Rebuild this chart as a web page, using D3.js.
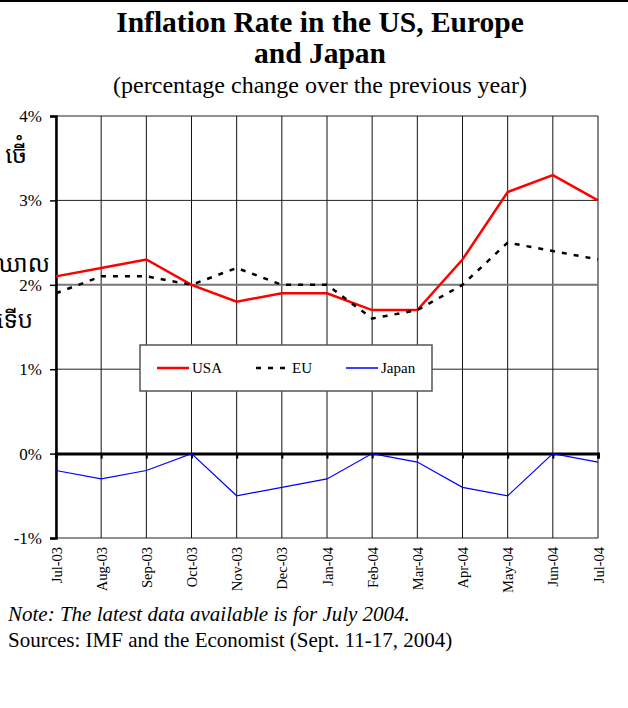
<!DOCTYPE html>
<html>
<head>
<meta charset="utf-8">
<script src="https://cdn.jsdelivr.net/npm/d3@7"></script>
<style>
  body { margin: 0; background: #fff; }
  svg { display: block; font-family: "Liberation Serif", "Times New Roman", serif; }
</style>
</head>
<body>
<svg id="chart"></svg>
<script>
// data
const months = ['Jul-03', 'Aug-03', 'Sep-03', 'Oct-03', 'Nov-03', 'Dec-03', 'Jan-04',
                'Feb-04', 'Mar-04', 'Apr-04', 'May-04', 'Jun-04', 'Jul-04'];
const usa   = [2.1, 2.2, 2.3, 2.0, 1.8, 1.9, 1.9, 1.7, 1.7, 2.3, 3.1, 3.3, 3.0];
const eu    = [1.9, 2.1, 2.1, 2.0, 2.2, 2.0, 2.0, 1.6, 1.7, 2.0, 2.5, 2.4, 2.3];
const japan = [-0.2, -0.3, -0.2, 0.0, -0.5, -0.4, -0.3, 0.0, -0.1, -0.4, -0.5, 0.0, -0.1];
const yTicks = [-1, 0, 1, 2, 3, 4];

const width = 628, height = 708;
const margin = {top: 116, right: 30, bottom: 170, left: 56};

const svg = d3.select('#chart')
    .attr('width', width)
    .attr('height', height);

// black rule along the very top
svg.append('rect')
    .attr('x', 0).attr('y', 0)
    .attr('width', width).attr('height', 2)
    .attr('fill', '#000');

// khmer fragments on the left edge (cut off in the original too)
const khmer = [
    {t: 'ចើំ', x: 27, y: 163, s: 24},
    {t: 'ឈោល', x: 50, y: 272, s: 24},
    {t: 'ទើប', x: 33, y: 328, s: 24}
];
svg.selectAll('.khmer')
    .data(khmer)
    .join('text')
    .attr('class', 'khmer')
    .attr('x', d => d.x)
    .attr('y', d => d.y)
    .attr('text-anchor', 'end')
    .attr('font-size', d => d.s)
    .style('font-family', '"Noto Sans Khmer", "Khmer OS", "Noto Sans", sans-serif')
    .text(d => d.t);

// titles
svg.append('text')
    .attr('x', 320).attr('y', 32)
    .attr('text-anchor', 'middle')
    .attr('font-size', 29.5).attr('font-weight', 'bold')
    .text('Inflation Rate in the US, Europe');
svg.append('text')
    .attr('x', 320).attr('y', 63)
    .attr('text-anchor', 'middle')
    .attr('font-size', 29.5).attr('font-weight', 'bold')
    .text('and Japan');
svg.append('text')
    .attr('x', 320).attr('y', 93)
    .attr('text-anchor', 'middle')
    .attr('font-size', 24)
    .text('(percentage change over the previous year)');

const w = width - margin.left - margin.right;
const h = height - margin.top - margin.bottom;

const xScale = d3.scalePoint()
    .domain(months)
    .range([0, w]);

const yScale = d3.scaleLinear()
    .domain([-1, 4])
    .range([h, 0]);

const chart = svg.append('g')
    .attr('transform', `translate(${margin.left},${margin.top})`);

// vertical grid
chart.append('g')
    .selectAll('line')
    .data(months)
    .join('line')
    .attr('x1', d => xScale(d)).attr('x2', d => xScale(d))
    .attr('y1', 0).attr('y2', h)
    .attr('stroke', '#111')
    .attr('stroke-width', 1);

// horizontal grid
chart.append('g')
    .selectAll('line')
    .data(yTicks.filter(d => d !== 0))
    .join('line')
    .attr('x1', 0).attr('x2', w)
    .attr('y1', d => yScale(d)).attr('y2', d => yScale(d))
    .attr('stroke', d => d === 2 ? '#777' : '#222')
    .attr('stroke-width', d => d === 2 ? 2 : 1);

// y axis
const yAxis = d3.axisLeft(yScale)
    .tickValues(yTicks)
    .tickFormat(d => d + '%')
    .tickSize(6)
    .tickPadding(8);
const yAxisG = chart.append('g').call(yAxis);
yAxisG.select('.domain').attr('stroke', '#000').attr('stroke-width', 2.5);
yAxisG.selectAll('.tick line').attr('stroke', '#000').attr('stroke-width', 1.5);
yAxisG.selectAll('.tick text')
    .attr('font-family', '"Liberation Serif", serif')
    .attr('font-size', 17)
    .attr('fill', '#000');

// zero line with ticks
const xAxis = d3.axisBottom(xScale)
    .tickSize(5)
    .tickFormat('');
const zeroG = chart.append('g')
    .attr('transform', `translate(0,${yScale(0)})`)
    .call(xAxis);
zeroG.select('.domain').attr('stroke', '#000').attr('stroke-width', 3);
zeroG.selectAll('.tick line').attr('stroke', '#000').attr('stroke-width', 2);

// month labels at the bottom
const xLabG = chart.append('g')
    .attr('transform', `translate(0,${h})`)
    .call(d3.axisBottom(xScale).tickSize(0).tickPadding(0));
xLabG.select('.domain').remove();
xLabG.selectAll('.tick text')
    .attr('font-family', '"Liberation Serif", serif')
    .attr('font-size', 14.5)
    .attr('fill', '#000')
    .attr('text-anchor', 'end')
    .attr('dy', '0.35em')
    .attr('transform', 'translate(0,9) rotate(-90)')
    .attr('x', 0).attr('y', 0);

// lines
const series = [
    {name: 'USA', values: usa, color: '#ff0000', width: 2.5, dash: null},
    {name: 'EU', values: eu, color: '#000', width: 2.5, dash: '5,7'},
    {name: 'Japan', values: japan, color: '#0000ff', width: 1.2, dash: null}
];
const line = d3.line()
    .x((d, i) => xScale(months[i]))
    .y(d => yScale(d));

chart.selectAll('.series')
    .data(series)
    .join('path')
    .attr('class', 'series')
    .attr('d', d => line(d.values))
    .attr('fill', 'none')
    .attr('stroke', d => d.color)
    .attr('stroke-width', d => d.width)
    .attr('stroke-dasharray', d => d.dash);

// legend
const legend = svg.append('g')
    .attr('transform', 'translate(140,345)');
legend.append('rect')
    .attr('x', 0).attr('y', 0)
    .attr('width', 292).attr('height', 46)
    .attr('fill', '#fff')
    .attr('stroke', '#555')
    .attr('stroke-width', 1.5);
const legX = [17, 116, 206];
const legItem = legend.selectAll('.leg')
    .data(series)
    .join('g')
    .attr('class', 'leg')
    .attr('transform', (d, i) => `translate(${legX[i]},23)`);
legItem.append('line')
    .attr('x1', 0).attr('x2', 32)
    .attr('y1', 0).attr('y2', 0)
    .attr('stroke', d => d.color)
    .attr('stroke-width', d => d.name === 'Japan' ? 1.5 : 2.5)
    .attr('stroke-dasharray', d => d.dash);
legItem.append('text')
    .attr('x', d => d.name === 'EU' ? 36 : 35)
    .attr('y', 5)
    .attr('font-size', 15)
    .text(d => d.name);

// footnotes
svg.append('text')
    .attr('x', 8).attr('y', 621)
    .attr('font-size', 21)
    .attr('font-style', 'italic')
    .text('Note: The latest data available is for July 2004.');
svg.append('text')
    .attr('x', 8).attr('y', 647)
    .attr('font-size', 21)
    .text('Sources: IMF and the Economist (Sept. 11-17, 2004)');
</script>
</body>
</html>
